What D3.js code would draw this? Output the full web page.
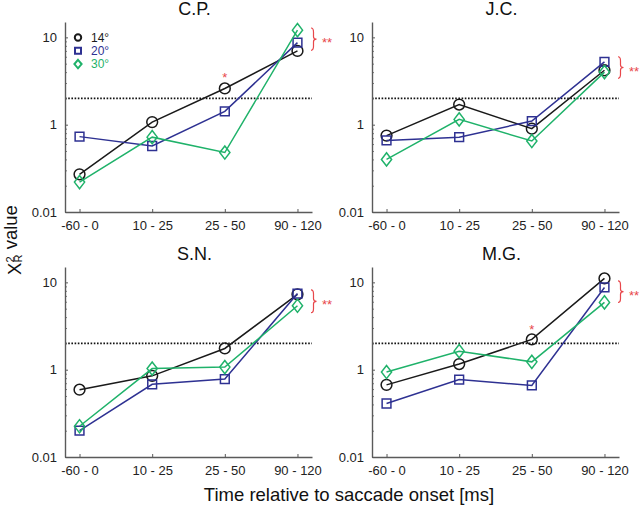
<!DOCTYPE html>
<html><head><meta charset="utf-8">
<script src="https://cdn.jsdelivr.net/npm/d3@7"></script>
<style>
body{margin:0;background:#fff}
svg{display:block}
text{font-family:"Liberation Sans",Arial,Helvetica,sans-serif}
</style>
</head><body>
<svg id="chart" width="640" height="507"></svg>
<script>
// ---- data ----
const categories = ["-60 - 0", "10 - 25", "25 - 50", "90 - 120"];
const seriesNames = ["14°", "20°", "30°"];
const seriesColors = ["#1a1a1a", "#2e3192", "#1fb26a"];
const seriesShapes = ["circle", "square", "diamond"];
const subjects = ["C.P.", "J.C.", "S.N.", "M.G."];

const cp14 = [0.27, 1.07, 2.6, 7.0];
const cp20 = [0.73, 0.57, 1.42, 8.7];
const cp30 = [0.22, 0.72, 0.48, 12.1];

const jc14 = [0.75, 1.70, 0.90, 4.2];
const jc20 = [0.66, 0.72, 1.10, 5.25];
const jc30 = [0.40, 1.15, 0.65, 4.0];

const sn14 = [0.59, 0.85, 1.75, 7.3];
const sn20 = [0.20, 0.68, 0.78, 7.45];
const sn30 = [0.225, 1.03, 1.07, 5.4];

const mg14 = [0.67, 1.16, 2.22, 11.1];
const mg20 = [0.41, 0.77, 0.66, 8.75];
const mg30 = [0.94, 1.63, 1.23, 5.9];

const subjectData = [[cp14, cp20, cp30], [jc14, jc20, jc30], [sn14, sn20, sn30], [mg14, mg20, mg30]];

const yDomain = [0.1, 15];
const yTickValues = [0.1, 1, 10];
const yTickLabels = ["0.01", "1", "10"];
const yMinorTicks = [0.2,0.3,0.4,0.5,0.6,0.7,0.8,0.9,2,3,4,5,6,7,8,9];
const threshold = 2;

// significance annotations: brace value range (hi, lo) at last category, single star (category, value)
const braceRanges = [[12.8, 7.1], [6.0, 3.4], [8.2, 4.5], [10.4, 5.9]];
const singleStars = [["25 - 50", 3.8], null, null, ["25 - 50", 3.2]];

const xLabel = "Time relative to saccade onset [ms]";

// ---- layout ----
const svg = d3.select("#chart");
const W = 247, H = 190;
const panelPos = [[65, 22], [372, 22], [65, 267], [372, 267]];
const red = "#e8474b";
const axisColor = "#5a5a5a";

const x = d3.scalePoint().domain(categories).range([0, W]).padding(0.2);
const y = d3.scaleLog().domain(yDomain).range([H, 0]);

function markerPath(shape) {
  if (shape === "circle") return d3.symbol(d3.symbolCircle, Math.PI * 5.4 * 5.4)();
  if (shape === "square") return d3.symbol(d3.symbolSquare, 8.8 * 8.8)();
  return "M0,-6.6L5.1,0L0,6.6L-5.1,0Z";
}

subjects.forEach((name, si) => {
  const [px, py] = panelPos[si];
  const g = svg.append("g").attr("transform", `translate(${px},${py})`);

  // title
  g.append("text").attr("x", W / 2 + 6).attr("y", -7)
    .attr("text-anchor", "middle").attr("font-size", 18).attr("fill", "#111").text(name);

  // threshold line
  g.append("line").attr("x1", 0).attr("x2", W)
    .attr("y1", y(threshold)).attr("y2", y(threshold))
    .attr("stroke", "#111").attr("stroke-width", 1.6).attr("stroke-dasharray", "1.6,1.6");

  // minor ticks
  const minor = g.append("g").call(d3.axisLeft(y).tickValues(yMinorTicks).tickSize(-2).tickFormat(""));
  minor.select(".domain").remove();
  minor.selectAll("line").attr("stroke", axisColor).attr("stroke-width", 0.8);

  // y axis
  const ya = g.append("g").call(d3.axisLeft(y).tickValues(yTickValues)
    .tickFormat((d, i) => yTickLabels[i]).tickSize(-3).tickSizeOuter(0).tickPadding(8));
  ya.select(".domain").attr("stroke", axisColor).attr("stroke-width", 1.4);
  ya.selectAll("line").attr("stroke", axisColor);
  ya.selectAll("text").attr("font-size", 13).attr("fill", "#222")
    .style("font-family", '"Liberation Sans",Arial,sans-serif');

  // x axis
  const xa = g.append("g").attr("transform", `translate(0,${H})`)
    .call(d3.axisBottom(x).tickSize(-3).tickSizeOuter(0).tickPadding(9));
  xa.select(".domain").attr("stroke", axisColor).attr("stroke-width", 1.4);
  xa.selectAll("line").attr("stroke", axisColor);
  xa.selectAll("text").attr("font-size", 13).attr("fill", "#222")
    .style("font-family", '"Liberation Sans",Arial,sans-serif');

  // series
  const line = d3.line().x((d, i) => x(categories[i])).y(d => y(d));
  subjectData[si].forEach((vals, k) => {
    g.append("path").datum(vals).attr("d", line)
      .attr("fill", "none").attr("stroke", seriesColors[k]).attr("stroke-width", 1.5);
    g.selectAll(null).data(vals).enter().append("path")
      .attr("d", markerPath(seriesShapes[k]))
      .attr("transform", (d, i) => `translate(${x(categories[i])},${y(d)})`)
      .attr("fill", "none").attr("stroke", seriesColors[k]).attr("stroke-width", 1.5);
  });

  // brace + **
  const [hi, lo] = braceRanges[si];
  const x0 = W - 1, y1 = y(hi), y2 = y(lo), ym = (y1 + y2) / 2;
  const bp = `M${x0},${y1} C${x0+2.5},${y1} ${x0+2.5},${y1+2} ${x0+2.5},${y1+4} L${x0+2.5},${ym-2.5} C${x0+2.5},${ym-0.8} ${x0+3.5},${ym} ${x0+5.5},${ym} C${x0+3.5},${ym} ${x0+2.5},${ym+0.8} ${x0+2.5},${ym+2.5} L${x0+2.5},${y2-4} C${x0+2.5},${y2-2} ${x0+2.5},${y2} ${x0},${y2}`;
  g.append("path").attr("d", bp).attr("fill", "none").attr("stroke", red).attr("stroke-width", 1.2);
  g.append("text").attr("x", W + 10).attr("y", ym + 8).attr("font-size", 13)
    .attr("fill", red).text("**");

  if (singleStars[si]) {
    const [cat, v] = singleStars[si];
    g.append("text").attr("x", x(cat)).attr("y", y(v) + 8).attr("text-anchor", "middle")
      .attr("font-size", 13).attr("fill", red).text("*");
  }

  // legend in first panel
  if (si === 0) {
    seriesNames.forEach((s, k) => {
      const ly = 15.5 + k * 13.3;
      const sym = seriesShapes[k] === "circle" ? d3.symbol(d3.symbolCircle, Math.PI * 3.2 * 3.2)()
        : seriesShapes[k] === "square" ? d3.symbol(d3.symbolSquare, 6 * 6)()
        : "M0,-4.2L3.6,0L0,4.2L-3.6,0Z";
      g.append("path").attr("d", sym).attr("transform", `translate(13,${ly})`)
        .attr("fill", "none").attr("stroke", seriesColors[k]).attr("stroke-width", 2);
      g.append("text").attr("x", 26).attr("y", ly + 4.3).attr("font-size", 12)
        .attr("fill", seriesColors[k]).text(s);
    });
  }
});

// axis titles
svg.append("text").attr("x", 349).attr("y", 501).attr("text-anchor", "middle")
  .attr("font-size", 18.5).attr("fill", "#111").text(xLabel);

const yl = svg.append("text").attr("transform", "translate(21,240) rotate(-90)")
  .attr("text-anchor", "middle").attr("font-size", 18.5).attr("fill", "#111");
yl.append("tspan").text("Χ");
yl.append("tspan").attr("font-size", 11).attr("dy", -7).text("2");
yl.append("tspan").attr("font-size", 11).attr("dx", -6).attr("dy", 8).text("R");
yl.append("tspan").attr("dy", -5).text(" value");
</script>
</body></html>
